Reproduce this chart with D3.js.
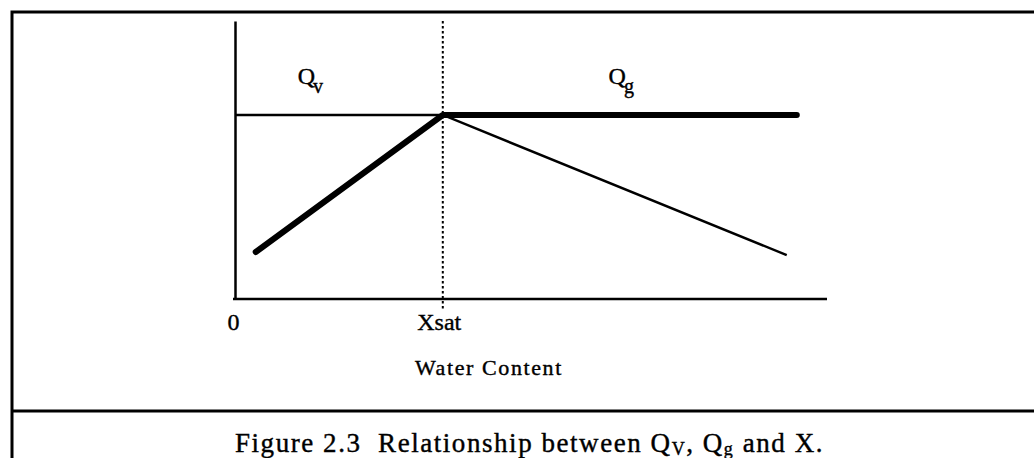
<!DOCTYPE html>
<html>
<head>
<meta charset="utf-8">
<script src="https://cdn.jsdelivr.net/npm/d3@7"></script>
<style>
    body { margin: 0; background: #fff; }
    svg text { font-family: "Liberation Serif", "Times New Roman", serif; fill: #000; stroke: #000; stroke-width: 0.4px; }
</style>
</head>
<body>
<div id="chart"></div>
<script>

// water content (x) vs Q (y), both in arbitrary 0-100 units
let xSat = 35.1;
let qLevel = 66.2;

// thick curve: rises to saturation, then stays flat
let thickX = [3.5, xSat, 94.9];
let thickY = [16.9, qLevel, qLevel];

// thin curve: flat up to saturation, then falls
let thinX = [0, xSat, 93.2];
let thinY = [qLevel, qLevel, 15.8];

let tickValues = [0, xSat];
let tickLabels = ["0", "Xsat"];

let seriesLabels = [
    {name: "Q", sub: "v", x: 10.6, y: 77.3},
    {name: "Q", sub: "g", x: 63.1, y: 77.3}
];

let xTitle = "Water Content";
let caption = ["Figure 2.3  Relationship between Q", "V", ", Q", "g", " and X."];

let width = 1034, height = 458;

let svg = d3.select("#chart").append("svg")
    .attr("width", width)
    .attr("height", height);

// outer frame
svg.append("path")
    .attr("d", `M12,${height} L12,12 L${width + 5},12`)
    .attr("fill", "none")
    .attr("stroke", "#000")
    .attr("stroke-width", 3);
svg.append("line")
    .attr("x1", 12).attr("x2", width)
    .attr("y1", 411).attr("y2", 411)
    .attr("stroke", "#000")
    .attr("stroke-width", 3);

let x = d3.scaleLinear().domain([0, 100]).range([235, 827]);
let y = d3.scaleLinear().domain([0, 100]).range([299, 21]);

// axes (plain lines, no tick marks)
let xAxis = svg.append("g")
    .attr("transform", `translate(0, ${y(0)})`)
    .call(d3.axisBottom(x).tickValues(tickValues).tickSize(0)
        .tickFormat((d, i) => tickLabels[i]));
xAxis.select(".domain").attr("stroke-width", 2.5).attr("d", `M${x(0) - 2},0H${x(100)}`);
xAxis.selectAll("text")
    .style("font-family", "Liberation Serif")
    .style("font-size", "24px")
    .attr("y", 31)
    .attr("dy", 0);
xAxis.selectAll(".tick").filter((d, i) => i === 0)
    .select("text").attr("x", -2);
xAxis.selectAll(".tick").filter((d, i) => i === 1)
    .select("text").attr("x", -4);

let yAxis = svg.append("g")
    .attr("transform", `translate(${x(0)}, 0)`)
    .call(d3.axisLeft(y).tickValues([]).tickSize(0));
yAxis.select(".domain").attr("stroke-width", 2.5);

// dotted saturation line
svg.append("line")
    .attr("x1", x(xSat)).attr("x2", x(xSat))
    .attr("y1", y(100)).attr("y2", y(0) + 12)
    .attr("stroke", "#000")
    .attr("stroke-width", 2)
    .attr("stroke-dasharray", "2.5,2.5");

let line = d3.line()
    .x(d => x(d[0]))
    .y(d => y(d[1]));

svg.append("path")
    .datum(d3.zip(thinX, thinY))
    .attr("d", line)
    .attr("fill", "none")
    .attr("stroke", "#000")
    .attr("stroke-width", 2.5);

svg.append("path")
    .datum(d3.zip(thickX, thickY))
    .attr("d", line)
    .attr("fill", "none")
    .attr("stroke", "#000")
    .attr("stroke-width", 6)
    .attr("stroke-linecap", "round")
    .attr("stroke-linejoin", "round");

// Q labels
seriesLabels.forEach(s => {
    let t = svg.append("text")
        .attr("x", x(s.x))
        .attr("y", y(s.y))
        .style("font-size", "24px");
    t.append("tspan").text(s.name);
    t.append("tspan").text(s.sub)
        .attr("dy", 9)
        .attr("dx", -2)
        .style("font-size", "20px");
});

svg.append("text")
    .attr("x", 415)
    .attr("y", 375)
    .style("font-size", "22px")
    .style("letter-spacing", "1.6px")
    .text(xTitle);

// caption with subscripts
let cap = svg.append("text")
    .attr("x", 235)
    .attr("y", 452)
    .style("font-size", "27px")
    .style("letter-spacing", "1.55px")
    .attr("xml:space", "preserve");
caption.forEach((c, i) => {
    let ts = cap.append("tspan").text(c);
    if (i % 2 === 1) {
        ts.attr("dy", 3).style("font-size", "18px");
    } else if (i > 0) {
        ts.attr("dy", -3);
    }
});

</script>
</body>
</html>
